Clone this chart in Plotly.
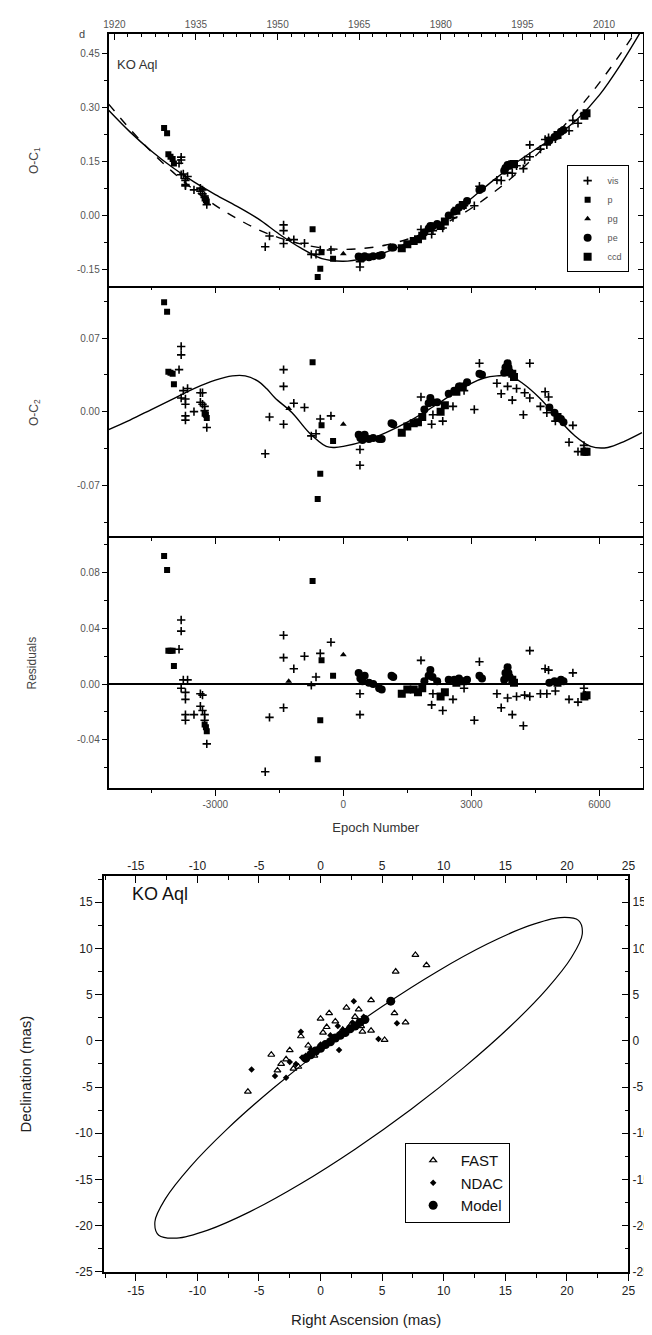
import plotly.graph_objects as go

# ---------------- O-C diagram data (KO Aql) ----------------
# visual (vis) minima
vis_E = [-3800, -3800, -3850, -3800, -3700, -3700, -3700, -3700, -3500, -3750, -3650, -3350, -3300, -3350, -3300, -3250, -3250, -3200,
         -1830, -1730, -1400, -1400, -1400, -1160, -910, -750, -640, -540, -290, 390, 390,
         1820, 2070, 2100, 2330, 2570, 2830, 3070, 3190, 3600, 3700, 3850, 3960, 4060, 4220, 4250, 4370, 4370, 4620, 4730, 4810, 4770, 4970, 5290, 5380, 5500, 5640, 5670]
vis_oc1 = [0.163, 0.155, 0.146, 0.114, 0.103, 0.098, 0.087, 0.083, 0.072, 0.116, 0.109, 0.077, 0.072, 0.068, 0.061, 0.055, 0.051, 0.031,
           -0.086, -0.056, -0.025, -0.041, -0.077, -0.066, -0.076, -0.107, -0.107, -0.095, -0.095, -0.127, -0.142,
           -0.038, -0.051, -0.041, -0.034, -0.005, 0.028, 0.028, 0.082, 0.099, 0.098, 0.120, 0.118, 0.139, 0.131, 0.155, 0.197, 0.164, 0.185, 0.212, 0.217, 0.197, 0.214, 0.236, 0.265, 0.257, 0.283, 0.281]
vis_oc2 = [0.062, 0.054, 0.040, 0.013, 0.012, 0.007, -0.004, -0.008, 0.000, 0.020, 0.022, 0.018, 0.018, 0.009, 0.007, 0.005, 0.001, -0.015,
           -0.040, -0.005, 0.040, 0.024, -0.012, 0.008, 0.004, -0.023, -0.021, -0.007, -0.004, -0.036, -0.051,
           0.014, -0.012, -0.003, -0.009, 0.005, 0.020, 0.002, 0.046, 0.027, 0.017, 0.024, 0.011, 0.022, -0.003, 0.018, 0.046, 0.013, 0.005, 0.019, 0.014, -0.001, -0.009, -0.029, -0.013, -0.038, -0.032, -0.038]
vis_res = [0.046, 0.038, 0.025, -0.003, -0.006, -0.011, -0.022, -0.026, -0.022, 0.003, 0.003, -0.007, -0.008, -0.016, -0.019, -0.022, -0.026, -0.043,
           -0.063, -0.024, 0.035, 0.019, -0.017, 0.011, 0.020, -0.001, 0.005, 0.022, 0.030, -0.007, -0.022,
           0.017, -0.015, -0.007, -0.019, -0.011, -0.003, -0.026, 0.016, -0.007, -0.017, -0.010, -0.022, -0.009, -0.030, -0.008, 0.024, -0.009, -0.007, 0.011, 0.010, -0.007, -0.005, -0.011, 0.008, -0.013, -0.003, -0.008]

# photographic (p)
p_E = [-4200, -4130, -4100, -4050, -4000, -3970, -3250, -3220, -3200, -720, -540, -600, -510, -240]
p_oc1 = [0.244, 0.229, 0.171, 0.164, 0.158, 0.145, 0.048, 0.044, 0.040, -0.037, -0.147, -0.170, -0.101, -0.119]
p_oc2 = [0.104, 0.095, 0.038, 0.037, 0.036, 0.026, -0.002, -0.003, -0.006, 0.047, -0.059, -0.083, -0.013, -0.028]
p_res = [0.092, 0.082, 0.024, 0.024, 0.024, 0.013, -0.029, -0.031, -0.034, 0.074, -0.026, -0.054, 0.017, 0.006]

# photographic plates (pg)
pg_E = [-1280, 0]
pg_oc1 = [-0.066, -0.105]
pg_oc2 = [0.003, -0.012]
pg_res = [0.002, 0.021]

# photoelectric (pe)
pe_E = [360, 400, 450, 500, 600, 700, 840, 900, 1130, 1170, 1900, 2000, 2040, 2090, 2200, 2470, 2600, 2710, 2900, 3190, 3250,
        3770, 3800, 3850, 3870, 3900, 4830, 4950, 5100, 5160]
pe_oc1 = [-0.113, -0.116, -0.117, -0.112, -0.115, -0.112, -0.111, -0.109, -0.088, -0.088, -0.046, -0.035, -0.028, -0.029, -0.023,
          0.001, 0.012, 0.023, 0.041, 0.072, 0.076, 0.125, 0.133, 0.141, 0.140, 0.139, 0.209, 0.219, 0.233, 0.238]
pe_oc2 = [-0.022, -0.025, -0.027, -0.022, -0.026, -0.025, -0.026, -0.026, -0.011, -0.012, 0.002, 0.008, 0.013, 0.009, 0.009,
          0.017, 0.020, 0.024, 0.028, 0.036, 0.035, 0.037, 0.042, 0.046, 0.042, 0.038, 0.004, -0.001, -0.007, -0.010]
pe_res = [0.008, 0.004, 0.002, 0.006, 0.001, 0.000, -0.003, -0.004, 0.006, 0.005, 0.002, 0.006, 0.010, 0.005, 0.002,
          0.003, 0.003, 0.004, 0.003, 0.006, 0.004, 0.003, 0.008, 0.012, 0.008, 0.005, 0.001, 0.002, 0.003, 0.002]

# CCD
ccd_E = [1370, 1500, 1650, 1750, 1850, 2280, 2380, 2650, 2800, 3960, 4000, 5020, 5650, 5700]
ccd_oc1 = [-0.090, -0.079, -0.070, -0.065, -0.055, -0.028, -0.016, 0.014, 0.030, 0.143, 0.144, 0.224, 0.278, 0.285]
ccd_oc2 = [-0.020, -0.014, -0.011, -0.010, -0.005, 0.000, 0.006, 0.019, 0.024, 0.036, 0.033, -0.005, -0.038, -0.038]
ccd_res = [-0.007, -0.004, -0.004, -0.006, -0.003, -0.009, -0.006, 0.001, 0.002, 0.003, 0.001, 0.001, -0.009, -0.008]

# model curves
curve_E = [-5500, -5000, -4500, -4000, -3500, -3000, -2500, -2000, -1500, -1000, -500, 0, 500, 1000, 1500, 2000,
           2500, 3000, 3500, 4000, 4500, 5000, 5500, 6000, 6500, 7000]
quad_curve = [0.310, 0.241, 0.178, 0.122, 0.072, 0.029, -0.007, -0.038, -0.061, -0.078, -0.089, -0.093, -0.090, -0.081, -0.065, -0.043,
              -0.014, 0.021, 0.063, 0.111, 0.166, 0.227, 0.295, 0.369, 0.450, 0.537]
full_curve = [0.293, 0.233, 0.180, 0.134, 0.094, 0.059, 0.027, -0.008, -0.051, -0.089, -0.119, -0.126, -0.118, -0.101, -0.075, -0.041,
              0.001, 0.048, 0.097, 0.143, 0.184, 0.222, 0.270, 0.335, 0.420, 0.517]
ltt_E = [-5500, -5000, -4500, -4000, -3500, -3000, -2600, -2300, -2000, -1800, -1600, -1200, -800, -400, -200, 0, 500, 1000, 1500,
         2000, 2500, 3000, 3300, 3600, 3900, 4200, 4600, 5000, 5400, 5800, 6200, 6600, 7000]
ltt_val = [-0.017, -0.008, 0.002, 0.012, 0.022, 0.030, 0.034, 0.034, 0.029, 0.022, 0.013, -0.001, -0.020, -0.033, -0.034, -0.033,
           -0.028, -0.020, -0.010, 0.002, 0.015, 0.027, 0.032, 0.034, 0.034, 0.027, 0.013, -0.005, -0.022, -0.033, -0.034, -0.028, -0.020]

# tick labels
year_ticks = [1920, 1935, 1950, 1965, 1980, 1995, 2010]
epoch_ticks = [-3000, 0, 3000, 6000]
epoch_text = ["-3000", "0", "3000", "6000"]
oc1_ticks = [-0.15, 0.00, 0.15, 0.30, 0.45]
oc1_text = ["-0.15", "0.00", "0.15", "0.30", "0.45"]
oc2_ticks = [-0.07, 0.00, 0.07]
oc2_text = ["-0.07", "0.00", "0.07"]
res_ticks = [-0.04, 0.00, 0.04, 0.08]
res_text = ["-0.04", "0.00", "0.04", "0.08"]

# ---------------- astrometric orbit data ----------------
orbit_x = [20.94, 19.47, 16.94, 13.53, 9.45, 5.00, 0.47, -3.82, -7.59, -10.58, -12.58, -13.45, -13.14, -11.67, -9.15, -5.72,
           -1.65, 2.80, 7.33, 11.62, 15.39, 18.38, 20.38, 21.25, 20.94]
orbit_y = [13.04, 13.35, 12.47, 10.48, 7.49, 3.72, -0.57, -5.10, -9.55, -13.63, -17.05, -19.57, -21.04, -21.35, -20.48, -18.48,
           -15.49, -11.72, -7.43, -2.90, 1.55, 5.63, 9.05, 11.57, 13.04]
fast_x = [7.7, 8.6, 6.1, 4.1, 2.1, 0.7, 0.0, 3.1, 6.0, 6.9, 3.4, 4.1, 5.2, -4.0, -2.5, -1.6, -3.2, -2.2, -1.0, 0.5, 1.0, 1.8,
          2.5, -0.5, -2.8, -3.5, 0.2, 1.2, 2.8, -1.8, 3.3, -5.9]
fast_y = [9.3, 8.2, 7.5, 4.4, 3.6, 3.0, 2.4, 3.4, 3.0, 2.0, 1.0, 1.1, 0.1, -1.5, -1.0, 0.5, -2.5, -3.0, -0.5, 1.5, 0.3, 1.2,
          1.8, -1.6, -2.0, -3.2, 0.9, 2.1, 2.6, -2.8, 1.6, -5.5]
ndac_x = [2.7, 6.2, 4.7, 1.5, -1.6, -5.6, -3.7, -2.8, -2.0, -1.2, 0.3, 1.0, 2.0, 3.0, -0.5, 0.8, 1.8, 2.6, -2.5, -1.5, 0.0,
          -0.8, 1.4, 3.5]
ndac_y = [4.3, 1.9, 0.2, -1.0, 1.0, -3.1, -3.8, -4.0, -2.5, -1.6, -0.3, 0.3, 0.8, 1.6, -1.0, 0.6, 1.2, 2.0, -2.3, -1.8, -0.4,
          -0.9, 1.6, 2.6]
model_x = [-1.2, -0.8, -0.4, 0.0, 0.4, 0.8, 1.2, 1.6, 2.0, 2.4, 2.8, 3.2, 3.6, 5.7]
model_y = [-1.9, -1.5, -1.1, -0.8, -0.4, -0.1, 0.3, 0.6, 0.9, 1.3, 1.6, 2.0, 2.3, 4.3]
ra_ticks = [-15, -10, -5, 0, 5, 10, 15, 20, 25]
ra_text = ["-15", "-10", "-5", "0", "5", "10", "15", "20", "25"]
dec_ticks = [-25, -20, -15, -10, -5, 0, 5, 10, 15]
dec_text = ["-25", "-20", "-15", "-10", "-5", "0", "5", "10", "15"]

# epoch <-> calendar year relation for the top axis
EPOCH_AT_1920 = -5365.0
EPOCHS_PER_YEAR = 127.5

# ---------------- layout geometry ----------------
W, H = 652, 1335
FONT = "Liberation Sans, Arial, sans-serif"
def fx(p):
    return p / W
def fy(p):
    return 1 - p / H

XD_TOP = [fx(97.3), fx(641.7)]
YD1 = [fy(281), fy(26)]
YD2 = [fy(532.7), fy(281)]
YD3 = [fy(784.5), fy(532.7)]
XD_BOT = [fx(92.5), fx(627)]
YD_BOT = [fy(1270.5), fy(873)]
E_RANGE = [-5503, 7021]
OC1_RANGE = [-0.199, 0.505]
OC2_RANGE = [-0.12, 0.118]
RES_RANGE = [-0.075, 0.105]
RA_RANGE = [-17.6, 25]
DEC_RANGE = [-25, 17.8]

fig = go.Figure()

STYLES = {
    "vis": dict(symbol="cross-thin-open", size=6, color="black", line=dict(width=1.6, color="black")),
    "p": dict(symbol="square", size=6, color="black", line=dict(width=0)),
    "pg": dict(symbol="triangle-up", size=6, color="black", line=dict(width=0)),
    "pe": dict(symbol="circle", size=8, color="black", line=dict(width=0)),
    "ccd": dict(symbol="square", size=8, color="black", line=dict(width=0)),
}
EPOCHS = {"vis": vis_E, "p": p_E, "pg": pg_E, "pe": pe_E, "ccd": ccd_E}

def add_types(values, axes, show):
    for name in ["vis", "p", "pg", "pe", "ccd"]:
        xa, ya = axes[name]
        fig.add_trace(go.Scatter(x=EPOCHS[name], y=values[name], mode="markers", name=name, marker=STYLES[name],
                                 xaxis=xa, yaxis=ya, showlegend=show, legend="legend", hoverinfo="skip"))

# panel 1: O-C1 (curves on left axis, points on the right-hand twin axis of identical range)
fig.add_trace(go.Scatter(x=curve_E, y=quad_curve, mode="lines", line=dict(color="black", width=1.4, dash="dash", shape="spline"),
                         xaxis="x", yaxis="y", showlegend=False, hoverinfo="skip"))
fig.add_trace(go.Scatter(x=curve_E, y=full_curve, mode="lines", line=dict(color="black", width=1.4, shape="spline"),
                         xaxis="x", yaxis="y", showlegend=False, hoverinfo="skip"))
add_types({"vis": vis_oc1, "p": p_oc1, "pg": pg_oc1, "pe": pe_oc1, "ccd": ccd_oc1},
          {k: ("x", "y5") for k in STYLES}, True)

# panel 2: O-C2
fig.add_trace(go.Scatter(x=ltt_E, y=ltt_val, mode="lines", line=dict(color="black", width=1.4, shape="spline"),
                         xaxis="x2", yaxis="y2", showlegend=False, hoverinfo="skip"))
add_types({"vis": vis_oc2, "p": p_oc2, "pg": pg_oc2, "pe": pe_oc2, "ccd": ccd_oc2},
          {k: ("x2", "y6") for k in STYLES}, False)

# panel 3: residuals (spread over the twin axes, all with identical ranges)
add_types({"vis": vis_res, "p": p_res, "pg": pg_res, "pe": pe_res, "ccd": ccd_res},
          {"vis": ("x3", "y3"), "p": ("x4", "y3"), "pg": ("x4", "y3"), "pe": ("x3", "y7"), "ccd": ("x3", "y7")}, False)

# astrometric orbit
fig.add_trace(go.Scatter(x=orbit_x, y=orbit_y, mode="lines", line=dict(color="black", width=1.2, shape="spline"),
                         xaxis="x5", yaxis="y4", showlegend=False, hoverinfo="skip"))
fig.add_trace(go.Scatter(x=fast_x, y=fast_y, mode="markers", name="FAST",
                         marker=dict(symbol="triangle-up-open", size=6, color="black", line=dict(width=1.2, color="black")),
                         xaxis="x6", yaxis="y4", legend="legend2", hoverinfo="skip"))
fig.add_trace(go.Scatter(x=ndac_x, y=ndac_y, mode="markers", name="NDAC",
                         marker=dict(symbol="diamond", size=5, color="black", line=dict(width=0)),
                         xaxis="x5", yaxis="y8", legend="legend2", hoverinfo="skip"))
fig.add_trace(go.Scatter(x=model_x, y=model_y, mode="markers", name="Model",
                         marker=dict(symbol="circle", size=9, color="black", line=dict(width=0)),
                         xaxis="x5", yaxis="y8", legend="legend2", hoverinfo="skip"))

# ---------------- axes ----------------
TICKFONT = dict(family=FONT, size=10, color="#555")
TICKFONT_B = dict(family=FONT, size=12, color="#222")
base = dict(showline=True, linecolor="black", linewidth=1.5, showgrid=False, zeroline=False,
            tickcolor="black", tickwidth=1.3, tickfont=TICKFONT)

def minor(ticks, dtick, tick0=0, length=3):
    return dict(ticks=ticks, ticklen=length, tick0=tick0, dtick=dtick, tickcolor="black", tickwidth=1.1)

year_vals = [EPOCH_AT_1920 + (yr - 1920) * EPOCHS_PER_YEAR for yr in year_ticks]

fig.update_layout(
    xaxis=dict(base, domain=XD_TOP, anchor="y", side="top", range=E_RANGE, tickmode="array",
               tickvals=year_vals, ticktext=[str(v) for v in year_ticks], ticks="inside", ticklen=6,
               minor=minor("inside", 2.5 * EPOCHS_PER_YEAR, EPOCH_AT_1920)),
    xaxis2=dict(base, domain=XD_TOP, anchor="y2", side="top", range=E_RANGE, tickmode="array",
                tickvals=epoch_ticks, showticklabels=False, ticks="inside", ticklen=6, minor=minor("inside", 1500)),
    xaxis3=dict(base, domain=XD_TOP, anchor="y3", side="top", range=E_RANGE, tickmode="array",
                tickvals=epoch_ticks, showticklabels=False, ticks="inside", ticklen=6, minor=minor("inside", 1500)),
    xaxis4=dict(base, overlaying="x3", anchor="y3", side="bottom", range=E_RANGE, tickmode="array",
                tickvals=epoch_ticks, ticktext=epoch_text, ticks="outside", ticklen=6, minor=minor("outside", 1500),
                title=dict(text="Epoch Number", font=dict(family=FONT, size=13, color="#333"), standoff=14)),
    yaxis=dict(base, domain=YD1, anchor="x", range=OC1_RANGE, tickmode="array", tickvals=oc1_ticks, ticktext=oc1_text,
               ticks="outside", ticklen=5, minor=minor("outside", 0.075),
               title=dict(text="O-C<sub>1</sub>", font=dict(family=FONT, size=12, color="#444"), standoff=36)),
    yaxis2=dict(base, domain=YD2, anchor="x2", range=OC2_RANGE, tickmode="array", tickvals=oc2_ticks, ticktext=oc2_text,
                ticks="outside", ticklen=5, minor=minor("outside", 0.035),
                title=dict(text="O-C<sub>2</sub>", font=dict(family=FONT, size=12, color="#444"), standoff=36)),
    yaxis3=dict(base, domain=YD3, anchor="x3", range=RES_RANGE, tickmode="array", tickvals=res_ticks, ticktext=res_text,
                ticks="outside", ticklen=5, minor=minor("outside", 0.02),
                zeroline=True, zerolinecolor="black", zerolinewidth=1.5,
                title=dict(text="Residuals", font=dict(family=FONT, size=12, color="#444"), standoff=38)),
    yaxis5=dict(base, overlaying="y", anchor="x", side="right", range=OC1_RANGE, tickmode="array", tickvals=oc1_ticks,
                showticklabels=False, ticks="inside", ticklen=5, minor=minor("inside", 0.075)),
    yaxis6=dict(base, overlaying="y2", anchor="x2", side="right", range=OC2_RANGE, tickmode="array", tickvals=oc2_ticks,
                showticklabels=False, ticks="inside", ticklen=5, minor=minor("inside", 0.035)),
    yaxis7=dict(base, overlaying="y3", anchor="x3", side="right", range=RES_RANGE, tickmode="array", tickvals=res_ticks,
                showticklabels=False, ticks="inside", ticklen=5, minor=minor("inside", 0.02)),
    xaxis5=dict(base, domain=XD_BOT, anchor="y4", side="bottom", range=RA_RANGE, tickmode="array", tickvals=ra_ticks,
                ticktext=ra_text, ticks="outside", ticklen=7, tickfont=TICKFONT_B, minor=minor("outside", 2.5, 0, 4),
                title=dict(text="Right Ascension (mas)", font=dict(family=FONT, size=15, color="#222"), standoff=18)),
    xaxis6=dict(base, overlaying="x5", anchor="y4", side="top", range=RA_RANGE, tickmode="array", tickvals=ra_ticks,
                ticktext=ra_text, ticks="inside", ticklen=7, tickfont=TICKFONT_B, minor=minor("inside", 2.5, 0, 4)),
    yaxis4=dict(base, domain=YD_BOT, anchor="x5", range=DEC_RANGE, tickmode="array", tickvals=dec_ticks, ticktext=dec_text,
                ticks="outside", ticklen=7, tickfont=TICKFONT_B, minor=minor("outside", 2.5, 0, 4),
                title=dict(text="Declination (mas)", font=dict(family=FONT, size=15, color="#222"), standoff=40)),
    yaxis8=dict(base, overlaying="y4", anchor="x5", side="right", range=DEC_RANGE, tickmode="array", tickvals=dec_ticks,
                ticktext=dec_text, ticks="inside", ticklen=7, tickfont=TICKFONT_B, minor=minor("inside", 2.5, 0, 4)),
)

fig.update_layout(
    width=W, height=H, autosize=False, margin=dict(l=0, r=0, t=0, b=0),
    paper_bgcolor="white", plot_bgcolor="white", font=dict(family=FONT, color="#333"),
    legend=dict(x=fx(564), y=fy(158), xanchor="left", yanchor="top", bgcolor="white", bordercolor="black",
                borderwidth=1, font=dict(family=FONT, size=9, color="#555"), itemwidth=30, tracegroupgap=0,
                itemsizing="trace"),
    legend2=dict(x=fx(399), y=fy(1141), xanchor="left", yanchor="top", bgcolor="white", bordercolor="black",
                 borderwidth=1, font=dict(family=FONT, size=15, color="#111"), itemwidth=45, tracegroupgap=0,
                 itemsizing="trace"),
    annotations=[
        dict(text="d", x=fx(65), y=fy(18), xref="paper", yref="paper", showarrow=False,
             font=dict(family=FONT, size=11, color="#444")),
        dict(text="KO Aql", x=fx(104), y=fy(47), xref="paper", yref="paper", xanchor="left", showarrow=False,
             font=dict(family=FONT, size=13, color="#333")),
        dict(text="KO Aql", x=fx(119), y=fy(903), xref="paper", yref="paper", xanchor="left", showarrow=False,
             font=dict(family=FONT, size=18, color="#111")),
    ],
)

fig.write_html("out.html")
